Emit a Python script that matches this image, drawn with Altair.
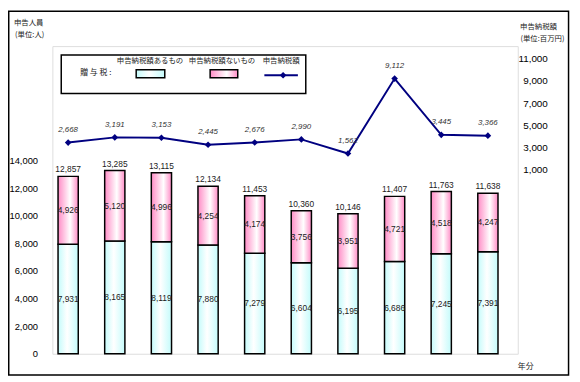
import altair as alt
import pandas as pd

# ---- data ----
years = ["15", "16", "17", "18", "19", "20", "21", "22", "23", "24"]
with_tax = [7931, 8165, 8119, 7880, 7279, 6604, 6195, 6686, 7245, 7391]        # 申告納税額あるもの
without_tax = [4926, 5120, 4996, 4254, 4174, 3756, 3951, 4721, 4518, 4247]     # 申告納税額ないもの
tax_amount = [2668, 3191, 3153, 2445, 2676, 2990, 1562, 9112, 3445, 3366]      # 申告納税額 (百万円)
left_ticks = [0, 2000, 4000, 6000, 8000, 10000, 12000, 14000]
right_ticks = [1000, 3000, 5000, 7000, 9000, 11000]

df = pd.DataFrame({"year": years, "with": with_tax, "without": without_tax, "tax": tax_amount})
df["total"] = df["with"] + df["without"]
df["mid_with"] = df["with"] / 2
df["mid_without"] = df["with"] + df["without"] / 2

W, H = 472, 312
NUM = "Liberation Sans Narrow, Arial Narrow, Liberation Sans, sans-serif"
CJK = "Noto Sans CJK JP"

cyan_grad = alt.LinearGradient(
    gradient="linear", x1=0, x2=1, y1=0, y2=0,
    stops=[alt.GradientStop(color="#c4fbfb", offset=0),
           alt.GradientStop(color="#ffffff", offset=0.45),
           alt.GradientStop(color="#c4fbfb", offset=1)])
pink_grad = alt.LinearGradient(
    gradient="linear", x1=0, x2=1, y1=0, y2=0,
    stops=[alt.GradientStop(color="#ff8cc6", offset=0),
           alt.GradientStop(color="#ffffff", offset=0.6),
           alt.GradientStop(color="#ff8cc6", offset=1)])

xscale = alt.Scale(paddingInner=0.5666, paddingOuter=0.2728, align=0.223)
x_axis = alt.Axis(title=None, ticks=False, domain=False, labelAngle=0, labelFont=NUM,
                  labelFontSize=10, labelColor="black", labelPadding=7)
X = alt.X("year:O", sort=years, scale=xscale, axis=x_axis)
Xn = alt.X("year:O", sort=years, scale=xscale, axis=None)

bar_scale = alt.Scale(domain=[0, 22300], nice=False, zero=True)
line_scale = alt.Scale(domain=[-18600, 12383], nice=False, zero=False)
raxis_scale = alt.Scale(domain=[-15577, 12130], nice=False, zero=False)

base = alt.Chart(df)

bar_with = base.mark_bar(fill=cyan_grad, stroke="black", strokeWidth=1.5).encode(
    x=X,
    y=alt.Y("with:Q", scale=bar_scale, stack=None,
            axis=alt.Axis(title=None, values=left_ticks, format=",d", ticks=False, domain=False,
                          grid=False, labelFont=NUM, labelFontSize=9.5, labelColor="black",
                          labelPadding=15, orient="left")),
    y2=alt.value(H),
)
bar_without = base.mark_bar(fill=pink_grad, stroke="black", strokeWidth=1.5).encode(
    x=Xn,
    y=alt.Y("total:Q", scale=bar_scale, axis=None, stack=None),
    y2="with:Q",
)
lab_with = base.mark_text(font=NUM, fontSize=8.5, color="#222").encode(
    x=Xn, y=alt.Y("mid_with:Q", scale=bar_scale, axis=None),
    text=alt.Text("with:Q", format=",d"))
lab_without = base.mark_text(font=NUM, fontSize=8.5, color="#222").encode(
    x=Xn, y=alt.Y("mid_without:Q", scale=bar_scale, axis=None),
    text=alt.Text("without:Q", format=",d"))
lab_total = base.mark_text(font=NUM, fontSize=8.5, color="#222", baseline="bottom", dy=-2).encode(
    x=Xn, y=alt.Y("total:Q", scale=bar_scale, axis=None),
    text=alt.Text("total:Q", format=",d"))

line = base.mark_line(color="#000080", strokeWidth=2).encode(
    x=Xn, y=alt.Y("tax:Q", scale=line_scale, axis=None))
pts = base.mark_point(shape="diamond", filled=True, color="#000080", size=45, opacity=1).encode(
    x=Xn, y=alt.Y("tax:Q", scale=line_scale, axis=None))
lab_tax = base.mark_text(font=NUM, fontSize=8, fontStyle="italic", color="#333", dy=-13).encode(
    x=Xn, y=alt.Y("tax:Q", scale=line_scale, axis=None),
    text=alt.Text("tax:Q", format=",d"))

right_axis = base.mark_line(opacity=0).encode(
    x=Xn,
    y=alt.Y("tax:Q", scale=raxis_scale,
            axis=alt.Axis(title=None, orient="right", values=right_ticks, format=",d", ticks=False,
                          domain=False, grid=False, labelFont=NUM, labelFontSize=10,
                          labelColor="black", labelPadding=30, labelAlign="right")))

one = alt.Data(values=[{"k": 1}])

# outer frame
frame = alt.Chart(one).mark_rect(fill=None, stroke="black", strokeWidth=1.5).encode(
    x=alt.value(-44.25), x2=alt.value(523.5), y=alt.value(-35.25), y2=alt.value(333.5))

# legend box
legend_box = alt.Chart(one).mark_rect(fill="white", stroke="black", strokeWidth=1.5).encode(
    x=alt.value(9), x2=alt.value(257), y=alt.value(9), y2=alt.value(48))
sw_cyan = alt.Chart(one).mark_rect(fill=cyan_grad, stroke="black", strokeWidth=1.5).encode(
    x=alt.value(85), x2=alt.value(114), y=alt.value(24), y2=alt.value(32))
sw_pink = alt.Chart(one).mark_rect(fill=pink_grad, stroke="black", strokeWidth=1.5).encode(
    x=alt.value(160), x2=alt.value(188), y=alt.value(24), y2=alt.value(32))
sw_line = alt.Chart(one).mark_rule(color="#000080", strokeWidth=2).encode(
    x=alt.value(215), x2=alt.value(249), y=alt.value(29.5))
sw_pt = alt.Chart(one).mark_point(shape="diamond", filled=True, color="#000080", size=45, opacity=1).encode(
    x=alt.value(234), y=alt.value(29.5))

def txt(s, x, y, size=7.5, font=CJK, align="center"):
    return alt.Chart(one).mark_text(text=s, font=font, fontSize=size, color="#222",
                                    align=align, baseline="middle").encode(
        x=alt.value(x), y=alt.value(y))

texts = [
    txt("申告納税額あるもの", 99, 15),
    txt("申告納税額ないもの", 172, 15),
    txt("申告納税額", 232, 15),
    txt("贈 与 税 :", 44, 27, size=8),
    txt("申告人員", -24, -23),
    txt("(単位:人)", -23, -11),
    txt("申告納税額", 493, -19),
    txt("(単位:百万円)", 497, -7),
    txt("年分", 480, 325, size=8),
]

chart = alt.layer(
    bar_with, bar_without, lab_with, lab_without, lab_total,
    line, pts, lab_tax, right_axis,
    frame, legend_box, sw_cyan, sw_pink, sw_line, sw_pt, *texts,
).resolve_scale(y="independent").properties(
    width=W, height=H,
    autosize=alt.AutoSizeParams(type="none"),
    padding={"left": 45, "top": 36, "right": 55, "bottom": 26},
).configure_view(stroke="black", strokeWidth=1.5).configure(background="white")

chart.save("out.html", embed_options={"renderer": "svg", "actions": False})
